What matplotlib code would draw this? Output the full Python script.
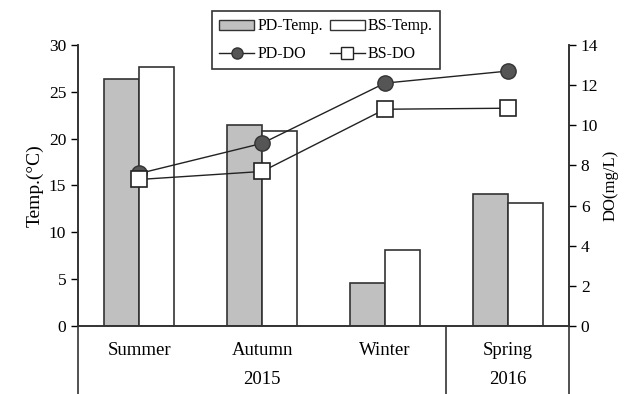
import matplotlib
matplotlib.use("Agg")
import matplotlib.pyplot as plt
import numpy as np
from matplotlib.lines import Line2D
from matplotlib.patches import Patch

plt.rcParams["font.family"] = ["Liberation Serif", "DejaVu Serif"]

seasons = ["Summer", "Autumn", "Winter", "Spring"]
years = ["2015", "2016"]
year_span = [3, 1]  # number of seasons under each year

pd_temp = [26.4, 21.5, 4.6, 14.1]
bs_temp = [27.7, 20.8, 8.1, 13.1]
pd_do = [7.6, 9.1, 12.1, 12.7]
bs_do = [7.3, 7.7, 10.8, 10.85]

GRAY = "#c0c0c0"
EDGE = "#333333"

fig = plt.figure(figsize=(6.39, 3.94), dpi=100)
ax = fig.add_axes([0.1221, 0.1726, 0.7684, 0.7132])
ax2 = ax.twinx()

x = np.arange(len(seasons))
w = 0.285
ax.bar(x - w / 2, pd_temp, w, color=GRAY, edgecolor=EDGE, lw=1.2, zorder=2)
ax.bar(x + w / 2, bs_temp, w, color="white", edgecolor=EDGE, lw=1.2, zorder=2)

ax2.plot(x, pd_do, color="#222222", lw=1, marker="o", ms=11,
         mfc="#555555", mec="#333333", zorder=3)
ax2.plot(x, bs_do, color="#222222", lw=1, marker="s", ms=12,
         mfc="white", mec="#222222", mew=1.2, zorder=4)

ax.set_xlim(-0.5, len(seasons) - 0.5)
ax.set_ylim(0, 30)
ax.set_yticks(range(0, 31, 5))
ax2.set_ylim(0, 14)
ax2.set_yticks(range(0, 15, 2))

for a in (ax, ax2):
    a.spines["top"].set_visible(False)
    for s in a.spines.values():
        s.set_color(EDGE)
        s.set_linewidth(1.2)
    a.tick_params(axis="y", direction="out", length=5, width=1, labelsize=12.5, colors="black")
ax2.set_zorder(ax.get_zorder() + 1)
ax2.patch.set_visible(False)

ax.set_xticks([])
ax.set_ylabel("Temp.(°C)", fontsize=14, labelpad=4)
ax2.set_ylabel("DO(mg/L)", fontsize=12, labelpad=3)

# category labels and year grouping under the axis
tr = ax.get_xaxis_transform()
for i, s in enumerate(seasons):
    ax.text(i, -0.088, s, transform=tr, ha="center", va="center", fontsize=13.5)
start = 0
bounds = [-0.5]
for yr, n in zip(years, year_span):
    ax.text(start + (n - 1) / 2, -0.19, yr, transform=tr, ha="center", va="center", fontsize=13.5)
    start += n
    bounds.append(start - 0.5)
for b in bounds:
    ax.plot([b, b], [0, -0.245], transform=tr, color=EDGE, lw=1.2, clip_on=False)

handles = [Patch(facecolor=GRAY, edgecolor=EDGE, lw=1),
           Line2D([], [], color="#222222", lw=1, marker="o", ms=8, mfc="#555555", mec="#333333"),
           Patch(facecolor="white", edgecolor=EDGE, lw=1),
           Line2D([], [], color="#222222", lw=1, marker="s", ms=8, mfc="white", mec="#222222")]
labels = ["PD-Temp.", "PD-DO", "BS-Temp.", "BS-DO"]
leg = fig.legend(handles, labels, ncol=2, loc="upper left", bbox_to_anchor=(0.332, 0.972),
                 fontsize=11.5, frameon=True, fancybox=False, edgecolor="black",
                 handlelength=2.2, handleheight=0.6, handletextpad=0.2, columnspacing=0.4,
                 borderpad=0.45, labelspacing=0.75, borderaxespad=0)
leg.get_frame().set_linewidth(1.2)

fig.savefig("out.png", dpi=100)
